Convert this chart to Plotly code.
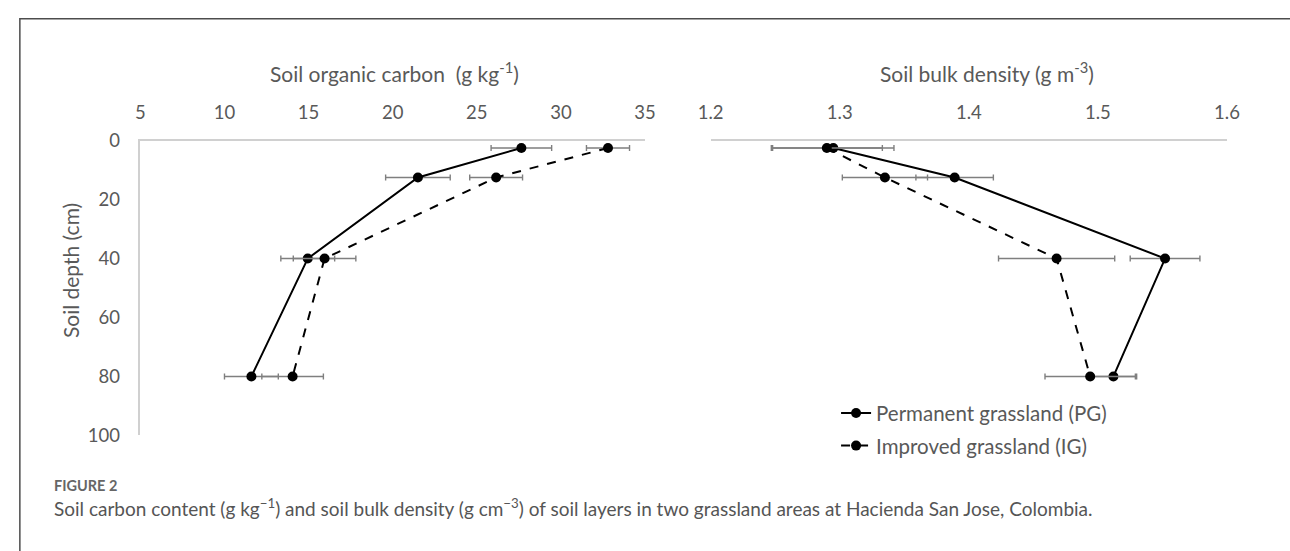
import plotly.graph_objects as go

W, H = 1290, 551

# ---- data ----
depth = [2.5, 12.5, 40, 80]
soc_pg = [27.65, 21.5, 14.95, 11.6]
soc_pg_err = [1.8, 1.92, 1.6, 1.6]
soc_ig = [32.8, 26.15, 15.95, 14.05]
soc_ig_err = [1.28, 1.57, 1.86, 1.83]
bd_pg = [1.295, 1.389, 1.552, 1.512]
bd_pg_err = [0.047, 0.030, 0.027, 0.018]
bd_ig = [1.290, 1.335, 1.468, 1.494]
bd_ig_err = [0.043, 0.033, 0.045, 0.035]

soc_ticks = [5, 10, 15, 20, 25, 30, 35]
bd_ticks = [1.2, 1.3, 1.4, 1.5, 1.6]
depth_ticks = [0, 20, 40, 60, 80, 100]

names = ["Permanent grassland (PG)", "Improved grassland (IG)"]

def px(x):
    return x / W

def py(y):
    return 1 - y / H

FONT = "Lato"
GRAY = "#595959"
AX = "#d0d0d0"
ERR = "#7f7f7f"
TICK = 18.5
TITLE = 21

fig = go.Figure()

def add(xv, err, dash, name, xa, ya, show):
    fig.add_trace(go.Scatter(
        x=xv, y=depth, xaxis=xa, yaxis=ya, mode="lines+markers",
        name=name, legendgroup=name, showlegend=show,
        line=dict(color="black", width=2, dash=dash),
        marker=dict(color="black", size=10),
        error_x=dict(type="data", array=err, visible=True, color=ERR,
                     thickness=1.4, width=3),
    ))

add(soc_pg, soc_pg_err, "solid", names[0], "x", "y", True)
add(soc_ig, soc_ig_err, "dash", names[1], "x", "y", True)
add(bd_pg, bd_pg_err, "solid", names[0], "x2", "y2", False)
add(bd_ig, bd_ig_err, "dash", names[1], "x2", "y2", False)

ydom = [py(441), py(134)]
fig.update_layout(
    width=W, height=H, margin=dict(l=0, r=0, t=0, b=0),
    paper_bgcolor="white", plot_bgcolor="white",
    font=dict(family=FONT, color=GRAY, size=TICK),
    xaxis=dict(domain=[px(130), px(645)], range=[5, 35], side="top",
               tickvals=soc_ticks, showgrid=False, zeroline=False,
               showline=True, linecolor=AX, linewidth=1.5, ticks="",
               ticklabelstandoff=12, tickfont=dict(size=TICK, color=GRAY),
               anchor="y"),
    yaxis=dict(domain=ydom, range=[100, 0], tickvals=depth_ticks,
               showgrid=False, zeroline=False, showline=True, linecolor=AX,
               linewidth=1.5, ticks="", ticklabelstandoff=15,
               tickfont=dict(size=TICK, color=GRAY), anchor="x"),
    xaxis2=dict(domain=[px(712), px(1239)], range=[1.2, 1.6], side="top",
                tickvals=bd_ticks, tickformat=".1f", showgrid=False,
                zeroline=False, showline=True, linecolor=AX, linewidth=1.5,
                ticks="", ticklabelstandoff=12,
                tickfont=dict(size=TICK, color=GRAY), anchor="y2"),
    yaxis2=dict(domain=ydom, range=[100, 0], showgrid=False, zeroline=False,
                showline=False, showticklabels=False, ticks="", anchor="x2"),
    legend=dict(x=px(840), y=py(397), xanchor="left", yanchor="top",
                font=dict(size=20.5, color=GRAY), tracegroupgap=3,
                bgcolor="rgba(0,0,0,0)"),
    showlegend=True,
)

ann = [
    dict(text="Soil organic carbon\u00a0\u00a0(g kg<sup>-1</sup>)", x=px(389), y=py(62),
         font=dict(size=TITLE, color=GRAY)),
    dict(text="Soil bulk density (g m<sup>-3</sup>)", x=px(994), y=py(62),
         font=dict(size=TITLE, color=GRAY)),
    dict(text="Soil depth (cm)", x=px(58), y=py(269), textangle=-90,
         font=dict(size=TITLE, color=GRAY)),
    dict(text="<b>FIGURE 2</b>", x=px(40), y=py(493), xanchor="left",
         font=dict(size=14.5, color="#666666")),
    dict(text="Soil carbon content (g kg<sup>\u22121</sup>) and soil bulk density (g cm<sup>\u22123</sup>) "
              "of soil layers in two grassland areas at Hacienda San Jose, Colombia.",
         x=px(40), y=py(516), xanchor="left",
         font=dict(size=19, color="#555555")),
]
for a in ann:
    a.setdefault("xanchor", "center")
    fig.add_annotation(xref="paper", yref="paper", showarrow=False,
                       yanchor="middle", **a)

fig.add_shape(type="rect", xref="paper", yref="paper",
              x0=px(7), x1=1.05, y0=-0.05, y1=py(7),
              line=dict(color="#4d4d4d", width=1.5), fillcolor="rgba(0,0,0,0)")

fig.write_html("out.html")
